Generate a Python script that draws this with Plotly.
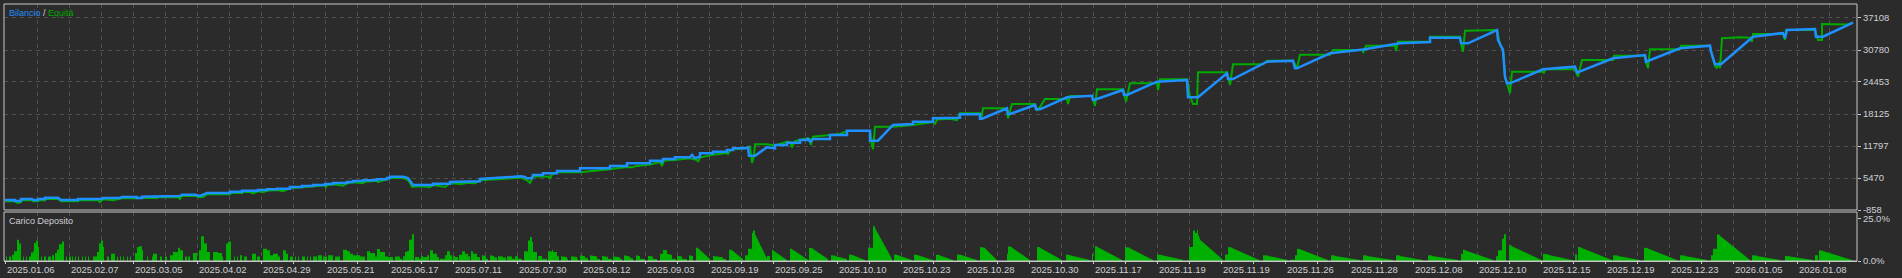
import plotly.graph_objects as go

# ---------------- data ----------------
date_labels = ["2025.01.06", "2025.02.07", "2025.03.05", "2025.04.02", "2025.04.29",
               "2025.05.21", "2025.06.17", "2025.07.11", "2025.07.30", "2025.08.12",
               "2025.09.03", "2025.09.19", "2025.09.25", "2025.10.10", "2025.10.23",
               "2025.10.28", "2025.10.30", "2025.11.17", "2025.11.19", "2025.11.19",
               "2025.11.26", "2025.11.28", "2025.12.08", "2025.12.10", "2025.12.15",
               "2025.12.19", "2025.12.23", "2026.01.05", "2026.01.08"]

balance_ticks = [-858, 5470, 11797, 18125, 24453, 30780, 37108]
load_ticks = [0, 25]
load_tick_text = ["0.0%", "25.0%"]

# (deal index, balance)
balance_pts = [
    (0, 1119), (10, 1119), (10, 922), (16, 922), (16, 1317), (27, 1317), (28, 1119), (33, 1119),
    (33, 1317), (40, 1317), (40, 1574), (53, 1574), (56, 1119), (73, 1119), (73, 1317), (97, 1317),
    (98, 1515), (115, 1515), (117, 1712), (132, 1712), (132, 1515), (137, 1515), (137, 1772),
    (152, 1772), (152, 1910), (175, 1910), (177, 2167), (190, 2167), (195, 1910), (198, 2108),
    (202, 2503), (225, 2503), (225, 2760), (237, 2760), (237, 2958), (253, 2958), (253, 3097),
    (262, 3097), (262, 3235), (272, 3235), (272, 3354), (285, 3354), (285, 3690), (297, 3690),
    (297, 3888), (308, 3888), (308, 4085), (320, 4085), (320, 4283), (328, 4283), (328, 4481),
    (342, 4481), (342, 4678), (348, 4678), (348, 4876), (358, 4876), (358, 5015), (372, 5015),
    (372, 5212), (382, 5212), (382, 5469), (385, 5469), (385, 5726), (398, 5726), (400, 5608),
    (403, 5469), (408, 4085), (428, 4085), (428, 4342), (445, 4342), (445, 4678), (462, 4678),
    (462, 4817), (475, 4817), (475, 5272), (485, 5410), (495, 5608),
    (516, 5806), (520, 5667), (522, 5410), (527, 5410), (528, 6063), (538, 6063), (538, 6399),
    (552, 6399), (552, 6853), (575, 6853), (575, 7387), (605, 7387), (605, 7842), (622, 7842),
    (622, 8376), (645, 8376), (645, 8890), (655, 8890), (657, 8633), (658, 9226), (670, 9226),
    (670, 9562), (685, 9562), (687, 10017), (690, 9365), (695, 9681), (695, 10353), (708, 10353),
    (708, 10670), (722, 10670), (722, 11006), (728, 11006), (728, 11342), (740, 11342),
    (743, 11540), (744, 9879), (750, 9879), (762, 11540), (770, 11342), (770, 11994), (782, 11994),
    (782, 12449), (795, 12449), (795, 12983), (802, 12983), (803, 13181), (805, 12647),
    (808, 13181), (825, 13181), (825, 13972), (842, 13972), (842, 14822), (865, 14822),
    (865, 12845), (873, 12845), (888, 15949), (908, 16147), (908, 16602), (928, 16602),
    (928, 17274), (945, 17393),
    (955, 17393), (955, 18065), (975, 18065), (975, 17195), (977, 17195), (1002, 19251),
    (1003, 18124), (1005, 18124), (1030, 19904), (1031, 19053), (1035, 19053), (1062, 21426),
    (1087, 21743), (1088, 20892), (1089, 20892), (1118, 22870), (1119, 21881), (1122, 21881),
    (1152, 24511), (1182, 24847), (1183, 21426), (1193, 21426), (1222, 26172), (1223, 25045),
    (1228, 25045), (1262, 28465), (1288, 28663), (1290, 27160), (1292, 27160), (1325, 30126),
    (1358, 30900), (1395, 32103),
    (1425, 32361), (1425, 33211), (1455, 33211), (1456, 32103), (1463, 32103), (1492, 34733),
    (1493, 32756), (1498, 30779), (1500, 25499), (1502, 24194), (1505, 24194), (1538, 26963),
    (1570, 27477), (1572, 26290), (1608, 29137), (1640, 29790), (1641, 28465), (1675, 31115),
    (1705, 31629), (1706, 30443), (1710, 27951), (1716, 27951), (1748, 33409), (1778, 34140),
    (1780, 33152), (1782, 34733), (1810, 34931), (1811, 33409), (1818, 33409), (1848, 36177),
]

# (deal index, equity)
equity_pts = [
    (0, 862), (10, 862), (13, 503), (16, 700), (16, 1060), (27, 1060), (28, 862), (33, 862),
    (33, 1060), (40, 1060), (40, 1317), (53, 1317), (56, 862), (73, 862), (73, 1060), (93, 1060),
    (95, 700), (97, 1060), (98, 1258), (108, 1060), (115, 1258), (117, 1455), (132, 1455),
    (137, 1515), (152, 1515), (152, 1653), (173, 1653), (175, 1317), (177, 1910), (190, 1910),
    (195, 1653), (198, 1712), (202, 2246), (225, 2246), (225, 2503), (237, 2503), (237, 2701),
    (245, 2701), (248, 2444), (251, 2701), (253, 2840), (258, 2642), (262, 2958), (272, 3097),
    (278, 2840), (285, 3433), (297, 3630), (308, 3828), (320, 4026), (321, 3690), (322, 4026),
    (328, 4224), (338, 3947), (342, 4421), (348, 4619), (358, 4421), (360, 4738), (372, 4936),
    (373, 4678), (382, 5212), (385, 5469), (398, 5469), (400, 5331), (403, 5074), (405, 4481),
    (407, 3690), (415, 3828), (425, 3630), (428, 4085), (440, 3690), (445, 4421), (457, 4283),
    (462, 4540), (470, 4421), (475, 5015), (485, 5133), (495, 5272),
    (516, 5529), (522, 5015), (525, 4481), (528, 5806), (538, 5806), (543, 5727), (545, 5469),
    (547, 6122), (552, 6596), (575, 6596), (605, 7190), (622, 7644), (628, 7585), (630, 7783),
    (645, 8139), (655, 8633), (657, 7842), (659, 8930), (670, 9029), (685, 9365), (692, 9029),
    (693, 8692), (695, 9523), (708, 10077), (722, 10413), (723, 10215), (725, 10808),
    (728, 11144), (740, 11342), (743, 11500), (745, 11797), (747, 8435), (749, 9879),
    (750, 12133), (762, 12133), (770, 11896), (782, 12647), (785, 12588), (787, 11540),
    (790, 12785), (802, 13319), (805, 13181), (806, 11994), (808, 13636), (825, 13972),
    (835, 14169), (842, 14763), (862, 14822), (865, 14763), (867, 11994), (868, 11144),
    (870, 15613), (888, 15613), (908, 15949), (928, 16542), (930, 16206), (932, 17037),
    (945, 17195),
    (952, 16938), (955, 18262), (975, 18262), (976, 17076), (978, 19251), (1000, 19251),
    (1002, 18915), (1003, 17274), (1005, 18520), (1007, 20101), (1030, 20101), (1032, 18915),
    (1035, 19508), (1040, 21090), (1062, 21090), (1063, 20101), (1065, 21683), (1087, 21683),
    (1090, 19706), (1092, 23008), (1118, 23008), (1121, 20556), (1125, 24194), (1152, 24194),
    (1153, 22870), (1155, 24985), (1182, 24985), (1185, 21683), (1188, 20101), (1192, 20101),
    (1193, 26369), (1222, 26369), (1225, 23858), (1228, 27951), (1258, 27951), (1262, 28663),
    (1288, 28663), (1292, 27220), (1295, 29849), (1325, 29849), (1328, 30779), (1358, 30779),
    (1358, 30186), (1361, 31629), (1390, 31629), (1391, 30640), (1393, 32420), (1395, 32420),
    (1425, 32420), (1425, 33409), (1455, 33409), (1457, 31174), (1458, 30443), (1460, 34595),
    (1490, 34595), (1492, 34733), (1495, 31767), (1498, 30977), (1500, 25499), (1503, 23265),
    (1505, 22217), (1507, 26488), (1538, 26488), (1539, 26172), (1540, 26963), (1570, 26963),
    (1573, 25499), (1577, 28802), (1608, 28802), (1609, 29652), (1640, 29652), (1641, 28406),
    (1643, 27160), (1645, 30917), (1675, 30917), (1676, 31629), (1705, 31629), (1707, 29790),
    (1710, 27615), (1712, 27160), (1714, 28465), (1715, 27160), (1717, 33092), (1735, 33290),
    (1745, 33211), (1747, 32420), (1748, 33942), (1778, 33942), (1780, 32756), (1781, 34733),
    (1810, 34733), (1813, 32756), (1817, 32756), (1817, 35920), (1842, 35821), (1848, 36177),
]

# deposit load (%): (from deal, to deal, load at start, load at end)
load_segments = [
    (1, 2, 2.6, 2.6), (4, 6, 2.6, 2.6), (7, 9, 3.7, 3.7), (9, 12, 5.7, 5.7), (12, 14, 12.6, 12.6),
    (14, 16, 10.3, 10.3), (18, 19, 2.6, 2.6), (21, 22, 2.6, 2.6), (24, 26, 2.6, 2.6),
    (26, 28, 5.1, 5.1), (28, 29, 5.7, 5.7), (29, 31, 10.7, 10.7), (31, 33, 12.2, 12.2),
    (33, 34, 8.3, 8.3), (36, 37, 2.6, 2.6), (39, 41, 2.6, 2.6), (43, 46, 2.6, 2.6),
    (47, 49, 3.4, 3.4), (50, 52, 4.7, 4.7), (52, 54, 6.7, 6.7), (54, 57, 9.9, 9.9),
    (57, 59, 11.6, 11.6), (61, 62, 2.6, 2.6), (64, 66, 2.6, 2.6), (67, 68, 2.6, 2.6),
    (70, 71, 2.6, 2.6), (73, 74, 2.6, 2.6), (77, 78, 2.6, 2.6), (80, 81, 2.6, 2.6),
    (83, 84, 2.6, 2.6), (88, 92, 2.6, 2.6), (92, 94, 5.3, 5.3), (94, 96, 10.3, 10.3),
    (96, 98, 12.2, 12.2), (98, 99, 8.3, 8.3), (102, 104, 2.6, 2.6), (106, 110, 4.3, 4.3),
    (112, 113, 2.6, 2.6), (115, 116, 2.6, 2.6), (118, 119, 2.6, 2.6), (122, 123, 2.6, 2.6),
    (125, 126, 2.6, 2.6), (130, 132, 4.7, 4.7), (132, 134, 8.3, 8.3), (134, 137, 8.7, 8.7),
    (137, 138, 6.3, 6.3), (142, 143, 2.6, 2.6), (147, 148, 2.6, 2.6), (148, 152, 4.3, 4.3),
    (155, 157, 2.6, 2.6), (160, 162, 2.6, 2.6), (165, 168, 3.4, 3.4), (168, 173, 5.3, 5.3),
    (173, 175, 7.9, 7.9), (175, 178, 6.3, 6.3), (180, 182, 2.6, 2.6), (183, 185, 2.6, 2.6),
    (188, 192, 4.7, 4.7), (194, 196, 6.3, 6.3), (196, 199, 14.6, 14.6), (199, 202, 10.3, 10.3),
    (202, 205, 5.3, 5.3), (208, 213, 5.3, 5.3), (213, 217, 4.7, 4.7), (217, 218, 2.6, 2.6),
    (221, 223, 10.3, 10.3), (223, 226, 11.6, 11.6), (229, 230, 2.6, 2.6), (232, 233, 2.6, 2.6),
    (235, 237, 3.4, 3.4), (239, 242, 2.6, 2.6), (247, 251, 4.3, 4.3), (252, 255, 2.6, 2.6),
    (258, 262, 7.3, 7.3), (262, 265, 6.3, 6.3), (265, 268, 3.4, 3.4), (268, 273, 4.3, 4.3),
    (273, 275, 2.6, 2.6), (278, 281, 6.3, 6.3), (281, 283, 4.3, 4.3), (285, 288, 2.6, 2.6),
    (290, 291, 2.6, 2.6), (293, 294, 2.6, 2.6), (297, 300, 2.6, 2.6), (302, 303, 2.6, 2.6),
    (305, 306, 2.6, 2.6), (308, 312, 2.6, 2.6), (313, 317, 3.4, 3.4), (318, 322, 2.6, 2.6),
    (323, 328, 3.4, 3.4), (330, 335, 2.6, 2.6), (338, 342, 6.7, 6.7), (342, 345, 5.7, 5.7),
    (345, 348, 4.3, 4.3), (348, 355, 3.4, 3.4), (355, 360, 2.6, 2.6), (362, 365, 5.7, 5.7),
    (365, 370, 4.7, 4.7), (370, 372, 2.6, 2.6), (372, 375, 7.1, 7.1), (375, 380, 5.3, 5.3),
    (380, 383, 2.6, 2.6), (383, 388, 2.4, 2.4), (390, 395, 2.6, 2.6),
    (395, 397, 1.4, 1.4), (398, 400, 2.8, 2.8), (400, 402, 5.3, 5.3), (402, 404, 5.9, 5.9),
    (404, 407, 12.6, 12.6), (407, 409, 15.8, 15.8), (410, 414, 2.4, 2.4), (414, 416, 1.4, 1.4),
    (416, 418, 3.0, 3.0), (418, 422, 2.4, 2.4), (422, 424, 3.4, 3.4), (425, 428, 6.3, 6.3),
    (428, 432, 4.3, 4.3), (432, 434, 2.4, 2.4), (435, 440, 1.4, 1.4), (440, 442, 3.4, 3.4),
    (442, 445, 5.7, 5.7), (445, 447, 3.4, 3.4), (448, 450, 3.0, 3.0), (450, 453, 2.4, 2.4),
    (454, 457, 3.7, 3.7), (457, 460, 5.7, 5.7), (460, 463, 4.3, 4.3), (463, 465, 2.8, 2.8),
    (466, 468, 5.7, 5.7), (468, 472, 4.3, 4.3), (472, 475, 2.4, 2.4), (477, 481, 3.4, 3.0),
    (481, 483, 1.4, 1.4), (485, 489, 3.4, 3.0), (489, 492, 2.4, 2.0), (493, 498, 2.8, 2.6),
    (498, 501, 2.0, 2.0), (502, 507, 2.8, 2.6), (507, 510, 1.4, 1.4), (510, 513, 2.8, 2.8),
    (513, 517, 1.4, 1.4), (519, 523, 5.7, 5.7), (523, 525, 12.2, 12.2), (525, 527, 14.2, 14.2),
    (527, 528, 11.2, 11.2), (528, 532, 5.3, 5.3), (533, 537, 3.0, 3.0), (537, 542, 1.4, 1.4),
    (543, 547, 5.7, 5.7), (547, 548, 6.7, 6.7), (548, 552, 5.3, 5.3), (552, 554, 2.8, 2.8),
    (556, 562, 2.8, 2.4), (562, 563, 1.4, 1.4), (566, 572, 2.8, 2.4), (572, 573, 1.4, 1.4),
    (575, 580, 3.4, 2.8), (580, 583, 2.0, 1.6), (585, 592, 3.4, 2.6), (592, 595, 1.4, 1.2),
    (597, 603, 3.0, 2.4), (603, 607, 1.4, 1.2), (608, 615, 2.8, 2.2), (615, 617, 1.4, 1.4),
    (619, 625, 3.4, 2.6), (625, 628, 1.8, 1.6), (631, 635, 3.4, 2.8), (635, 640, 1.4, 1.2),
    (643, 648, 3.0, 2.6), (648, 652, 1.4, 1.2), (655, 658, 4.3, 4.3), (658, 662, 6.7, 6.3),
    (662, 667, 4.3, 3.6), (667, 671, 1.4, 1.2), (672, 677, 3.0, 2.6), (677, 682, 1.4, 1.2),
    (684, 688, 3.4, 3.0), (691, 693, 7.9, 7.9), (693, 705, 7.5, 1.2), (708, 718, 3.0, 2.2),
    (718, 721, 1.4, 1.2), (724, 727, 6.7, 6.7), (727, 738, 6.3, 1.2), (740, 743, 3.4, 3.4),
    (743, 747, 7.3, 7.3), (747, 748, 16.6, 16.6), (748, 750, 18.1, 18.1), (750, 762, 16.0, 1.4),
    (762, 765, 3.0, 3.0), (767, 768, 6.7, 6.7), (768, 782, 6.3, 0.6), (785, 787, 7.3, 7.3),
    (787, 803, 6.9, 0.8),
    (804, 808, 7.9, 7.5), (808, 823, 7.1, 1.2), (826, 830, 3.4, 3.2), (830, 842, 3.0, 1.2),
    (844, 848, 3.9, 3.6), (848, 860, 3.4, 0.6), (863, 868, 7.9, 7.9), (868, 870, 20.5, 20.5),
    (870, 887, 19.5, 1.2), (889, 893, 3.9, 3.6), (893, 907, 3.4, 0.6), (909, 913, 3.9, 3.6),
    (913, 928, 3.4, 0.6), (931, 935, 3.7, 3.5), (935, 948, 3.3, 0.6), (952, 957, 3.9, 3.6),
    (957, 972, 3.4, 0.6), (975, 980, 8.3, 7.9), (980, 992, 7.5, 0.6), (1002, 1003, 4.3, 4.3),
    (1003, 1007, 8.7, 8.3), (1007, 1025, 7.9, 0.6), (1032, 1035, 8.3, 8.1), (1035, 1057, 7.8, 0.6),
    (1061, 1065, 3.9, 3.6), (1065, 1085, 3.4, 0.6), (1087, 1088, 4.3, 4.3), (1090, 1093, 8.7, 8.5),
    (1093, 1117, 8.2, 0.6), (1120, 1125, 8.3, 7.9), (1125, 1148, 7.5, 0.6), (1152, 1157, 3.9, 3.6),
    (1157, 1178, 3.4, 0.8), (1182, 1183, 0.8, 0.8), (1184, 1188, 8.3, 8.3), (1188, 1190, 18.1, 18.1),
    (1190, 1192, 16.6, 16.6), (1192, 1193, 18.5, 18.5), (1193, 1195, 16.0, 13.0),
    (1195, 1218, 12.6, 0.8), (1220, 1223, 3.9, 3.9), (1223, 1227, 8.3, 8.0), (1227, 1255, 7.7, 0.4),
    (1258, 1263, 3.4, 3.2), (1263, 1283, 3.0, 0.6), (1285, 1290, 0.8, 0.8), (1290, 1292, 3.4, 3.4),
    (1292, 1295, 7.3, 7.1), (1295, 1323, 6.9, 0.6), (1326, 1330, 3.4, 3.2), (1330, 1355, 3.0, 0.6),
    (1358, 1362, 3.4, 3.2), (1362, 1388, 3.0, 0.6), (1391, 1395, 3.4, 3.2), (1395, 1418, 3.0, 0.6),
    (1423, 1427, 3.4, 3.2), (1427, 1453, 3.0, 0.6), (1456, 1458, 4.3, 4.3), (1458, 1460, 6.7, 6.7),
    (1460, 1488, 6.4, 0.6), (1491, 1493, 2.8, 2.8), (1493, 1497, 6.3, 6.3), (1497, 1499, 13.2, 13.2),
    (1499, 1501, 15.8, 15.8), (1504, 1507, 9.3, 9.1), (1507, 1537, 8.8, 0.4), (1538, 1543, 4.3, 4.0),
    (1543, 1568, 3.7, 0.4), (1570, 1572, 3.9, 3.9), (1573, 1576, 8.3, 8.1), (1576, 1607, 7.8, 0.6),
    (1608, 1613, 3.4, 3.2), (1613, 1635, 3.0, 0.6), (1639, 1643, 7.9, 7.7), (1643, 1672, 7.4, 0.6),
    (1675, 1680, 3.4, 3.2), (1680, 1702, 3.0, 0.6), (1706, 1708, 3.4, 3.4), (1708, 1712, 7.3, 7.3),
    (1712, 1715, 15.8, 15.4), (1715, 1745, 15.0, 0.6), (1747, 1752, 3.4, 3.2), (1752, 1775, 3.0, 0.6),
    (1780, 1785, 3.0, 2.8), (1785, 1808, 2.6, 0.6), (1810, 1813, 3.4, 3.4), (1814, 1818, 6.3, 6.1),
    (1818, 1847, 5.9, 0.6),
]

# ---------------- style ----------------
BG = "#2b2b2b"
GRID = "#505050"
FRAME = "#c8c8c8"
TEXT = "#cfcfd6"
BLUE = "#1e90ff"
GREEN = "#00aa00"
BAR = "#00b000"
FONT = "Liberation Sans, Arial, sans-serif"

bx = [p[0] for p in balance_pts]
bv = [p[1] for p in balance_pts]
ex = [p[0] for p in equity_pts]
ev = [p[1] for p in equity_pts]

lx, ly = [], []
for x0, x1, h0, h1 in load_segments:
    lx += [x0, x0, x1, x1]
    ly += [0, h0, h1, 0]

fig = go.Figure()
fig.add_trace(go.Scatter(x=lx, y=ly, xaxis="x", yaxis="y2", mode="lines", fill="tozeroy",
                         line=dict(width=0, color=BAR), fillcolor=BAR, hoverinfo="skip",
                         showlegend=False))
fig.add_trace(go.Scatter(x=ex, y=ev, xaxis="x", yaxis="y", mode="lines",
                         line=dict(color=GREEN, width=2), hoverinfo="skip", showlegend=False))
fig.add_trace(go.Scatter(x=bx, y=bv, xaxis="x", yaxis="y", mode="lines",
                         line=dict(color=BLUE, width=2.5), hoverinfo="skip", showlegend=False))

TOP_LOW = 0.19844
BOT_HIGH = 0.19066

fig.update_layout(
    width=1902, height=278,
    margin=dict(l=4, r=45, t=4, b=17),
    paper_bgcolor=BG, plot_bgcolor=BG,
    font=dict(family=FONT, size=9, color=TEXT),
    showlegend=False,
    xaxis=dict(domain=[0, 1], range=[-1, 1852], anchor="y2",
               tickmode="linear", tick0=0, dtick=32,
               showgrid=True, gridcolor=GRID, griddash="4px,4px", gridwidth=1,
               ticks="outside", ticklen=2, tickcolor=FRAME, showticklabels=False,
               showline=True, linecolor=FRAME, linewidth=1, zeroline=False),
    yaxis=dict(domain=[TOP_LOW, 1], range=[-858, 39875], anchor="x", side="right",
               tickmode="array", tickvals=balance_ticks,
               ticktext=[str(v) for v in balance_ticks],
               showgrid=True, gridcolor=GRID, griddash="4px,4px", gridwidth=1,
               ticks="outside", ticklen=3, tickcolor=FRAME,
               tickfont=dict(family=FONT, size=9.5, color=TEXT),
               zeroline=False, showline=False),
    yaxis2=dict(domain=[0, BOT_HIGH], range=[0, 29], anchor="x", side="right",
                tickmode="array", tickvals=load_ticks, ticktext=load_tick_text,
                showgrid=False, ticks="outside", ticklen=3, tickcolor=FRAME,
                tickfont=dict(family=FONT, size=9.5, color=TEXT),
                zeroline=False, showline=False),
)

shapes = [
    dict(type="rect", xref="paper", yref="paper", x0=0, x1=1, y0=TOP_LOW, y1=1,
         line=dict(color=FRAME, width=1), layer="above"),
    dict(type="rect", xref="paper", yref="paper", x0=0, x1=1, y0=0, y1=BOT_HIGH,
         line=dict(color=FRAME, width=1), layer="above"),
]
fig.update_layout(shapes=shapes)

annotations = [
    dict(xref="paper", yref="paper", x=0, y=1, xanchor="left", yanchor="top",
         xshift=3, yshift=-2, showarrow=False,
         text=f'<span style="color:{BLUE}">Bilancio</span> / <span style="color:{GREEN}">Equità</span>',
         font=dict(family=FONT, size=9, color=TEXT)),
    dict(xref="paper", yref="paper", x=0, y=BOT_HIGH, xanchor="left", yanchor="top",
         xshift=3, yshift=-2, showarrow=False, text="Carico Deposito",
         font=dict(family=FONT, size=9, color=TEXT)),
]
for k, lab in enumerate(date_labels):
    annotations.append(dict(xref="x", yref="paper", x=64 * k, y=0, xanchor="left",
                            yanchor="top", xshift=0, yshift=-1, showarrow=False, text=lab,
                            font=dict(family=FONT, size=9.5, color=TEXT)))
fig.update_layout(annotations=annotations)

fig.write_html("out.html")
